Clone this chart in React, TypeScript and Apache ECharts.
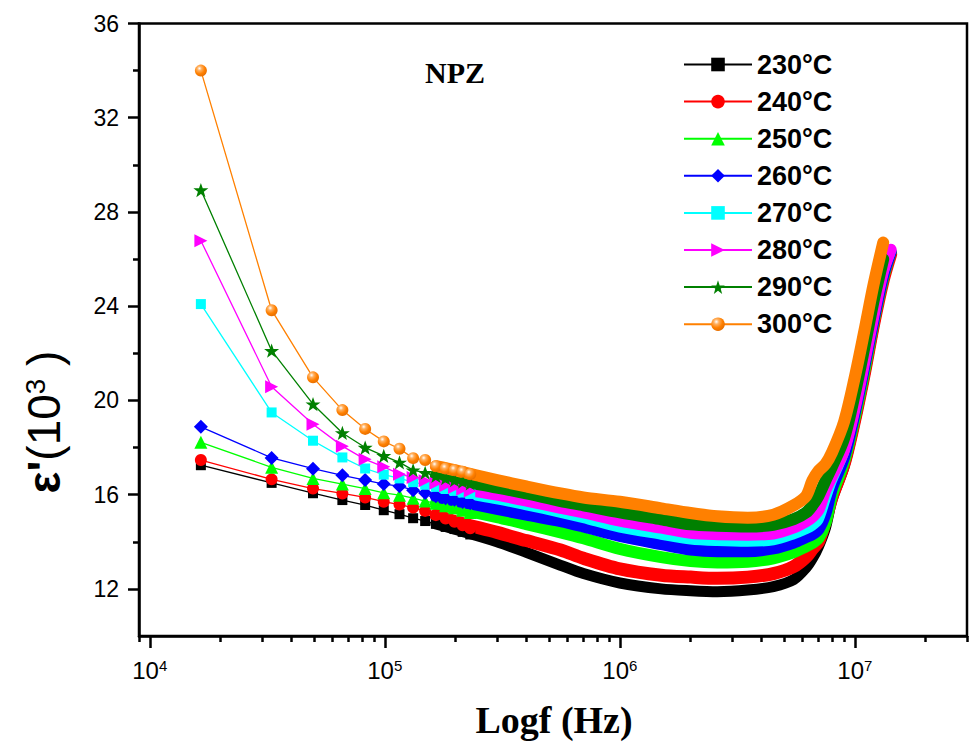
import React, { useEffect, useRef } from 'react';
import * as echarts from 'echarts';

// ---- data (values in 10^3) ----
const temps = ['230°C', '240°C', '250°C', '260°C', '270°C', '280°C', '290°C', '300°C'];

// low-frequency points where the individual markers are visible (Hz)
const markerFreq = [16500, 33000, 49500, 66000, 82500, 99000, 115500, 132000, 148500, 165000, 181500, 198000, 214500, 231000];
const m230 = [17.25, 16.5, 16.06, 15.77, 15.56, 15.34, 15.17, 15.0, 14.88, 14.76, 14.63, 14.54, 14.42, 14.31];
const m240 = [17.47, 16.65, 16.26, 16.05, 15.88, 15.7, 15.58, 15.45, 15.31, 15.13, 14.99, 14.85, 14.7, 14.57];
const m250 = [18.22, 17.16, 16.69, 16.45, 16.26, 16.08, 15.98, 15.85, 15.73, 15.63, 15.53, 15.44, 15.34, 15.24];
const m260 = [18.88, 17.56, 17.1, 16.82, 16.62, 16.45, 16.36, 16.19, 16.07, 15.93, 15.85, 15.78, 15.69, 15.63];
const m270 = [24.09, 19.49, 18.29, 17.58, 17.11, 16.85, 16.69, 16.53, 16.42, 16.33, 16.24, 16.16, 16.09, 16.03];
const m280 = [26.78, 20.58, 18.99, 18.06, 17.5, 17.18, 16.87, 16.73, 16.59, 16.48, 16.38, 16.3, 16.23, 16.16];
const m290 = [28.93, 22.11, 19.84, 18.62, 18.0, 17.65, 17.37, 17.04, 16.93, 16.8, 16.7, 16.62, 16.55, 16.48];
const m300 = [34.0, 23.83, 20.98, 19.59, 18.79, 18.26, 17.95, 17.55, 17.47, 17.21, 17.11, 17.04, 16.97, 16.87];

// dense region where the markers merge into a band (Hz)
const bandFreq = [165e3, 200e3, 300e3, 400e3, 560e3, 700e3, 1e6, 1.5e6, 2e6, 2.6e6, 3.5e6, 4.5e6, 5.5e6, 6.2e6, 6.6e6, 7e6, 7.5e6, 8e6, 9e6, 1e7, 1.1e7, 1.2e7, 1.32e7, 1.42e7];
const b230 = [14.76, 14.52, 14.0, 13.55, 13.0, 12.65, 12.25, 12.0, 11.92, 11.88, 11.95, 12.1, 12.4, 12.9, 13.3, 13.8, 14.6, 15.8, 17.2, 19.1, 21.1, 23.1, 25.1, 26.2];
const b240 = [15.13, 14.85, 14.4, 14.05, 13.65, 13.3, 12.85, 12.58, 12.5, 12.45, 12.5, 12.65, 12.95, 13.35, 13.7, 14.0, 14.9, 15.9, 17.3, 19.2, 21.2, 23.2, 25.1, 26.2];
const b250 = [15.63, 15.43, 15.05, 14.75, 14.4, 14.15, 13.7, 13.35, 13.18, 13.12, 13.15, 13.3, 13.56, 13.81, 13.95, 14.15, 14.8, 16.0, 17.4, 19.3, 21.3, 23.3, 25.2, 26.3];
const b260 = [15.93, 15.75, 15.4, 15.15, 14.88, 14.65, 14.25, 13.9, 13.67, 13.6, 13.6, 13.72, 13.97, 14.2, 14.32, 14.53, 15.2, 16.3, 17.6, 19.5, 21.5, 23.4, 25.3, 26.3];
const b270 = [16.33, 16.12, 15.8, 15.55, 15.23, 15.0, 14.6, 14.3, 14.1, 14.03, 14.0, 14.06, 14.32, 14.53, 14.68, 14.92, 15.8, 16.6, 17.8, 19.6, 21.6, 23.5, 25.4, 26.3];
const b280 = [16.48, 16.3, 16.0, 15.75, 15.44, 15.25, 14.9, 14.6, 14.38, 14.32, 14.3, 14.35, 14.61, 14.87, 15.06, 15.35, 16.2, 16.8, 17.9, 19.7, 21.7, 23.6, 25.5, 26.4];
const b290 = [16.8, 16.62, 16.3, 16.05, 15.73, 15.55, 15.25, 14.95, 14.74, 14.68, 14.65, 14.72, 14.96, 15.24, 15.55, 15.95, 16.6, 17.2, 18.4, 20.3, 22.3, 24.2, 26.0, null];
const b300 = [17.21, 17.03, 16.62, 16.35, 16.05, 15.88, 15.7, 15.42, 15.22, 15.08, 15.02, 15.15, 15.55, 15.94, 16.6, 17.0, 17.3, 17.8, 19.1, 21.0, 23.0, 24.9, 26.7, null];

// axis ticks
const xMajorTicks = [1e4, 1e5, 1e6, 1e7];
const xMinorTicks = [9e3, 2e4, 3e4, 4e4, 5e4, 6e4, 7e4, 8e4, 9e4, 2e5, 3e5, 4e5, 5e5, 6e5, 7e5, 8e5, 9e5, 2e6, 3e6, 4e6, 5e6, 6e6, 7e6, 8e6, 9e6, 2e7, 3e7];
const yMajorTicks = [12, 16, 20, 24, 28, 32, 36];
const yMinorTicks = [14, 18, 22, 26, 30, 34];

// ---- styles ----
const markerSets = [m230, m240, m250, m260, m270, m280, m290, m300];
const bandSets = [b230, b240, b250, b260, b270, b280, b290, b300];
const colors = ['#000000', '#FF0000', '#00FF00', '#0000FF', '#00FFFF', '#FF00FF', '#008000', '#FF8000'];
const STAR = 'path://M12 0 L14.9 8.3 L23.6 8.4 L16.6 13.6 L19.1 22 L12 17 L4.9 22 L7.4 13.6 L0.4 8.4 L9.1 8.3 Z';
const symbols = ['rect', 'circle', 'triangle', 'diamond', 'rect', 'triangle', STAR, 'circle'];
const symbolSizes = [10, 12, 13, 14, 10, 13, 15, 12];
const symbolRotates = [0, 0, 0, 0, 0, -90, 0, 0];
const bandWidths = [11, 13, 12, 12, 10, 12, 12, 12];

const SANS = 'Liberation Sans, Arial, sans-serif';
const SERIF = 'Liberation Serif, Times New Roman, serif';

function buildOption() {
  const sphere = new echarts.graphic.RadialGradient(0.38, 0.32, 0.75, [
    { offset: 0, color: '#ffffff' },
    { offset: 0.25, color: '#ffb060' },
    { offset: 0.6, color: '#ff8000' },
    { offset: 1, color: '#e06a00' },
  ]);
  const series: any[] = [];
  temps.forEach((name, i) => {
    const bandData = bandFreq
      .map((f, j) => [f, bandSets[i][j]])
      .filter((p) => p[1] !== null && p[1] !== undefined);
    series.push({
      name: name + ' band',
      type: 'line',
      xAxisIndex: 0,
      yAxisIndex: 0,
      data: bandData,
      showSymbol: false,
      smooth: 0.3,
      silent: true,
      lineStyle: { color: colors[i], width: bandWidths[i], cap: 'round', join: 'round' },
      itemStyle: { color: colors[i] },
      z: 2,
    });
    series.push({
      name,
      type: 'line',
      xAxisIndex: 0,
      yAxisIndex: 0,
      data: markerFreq.map((f, j) => [f, markerSets[i][j]]),
      symbol: symbols[i],
      symbolSize: symbolSizes[i],
      symbolRotate: symbolRotates[i],
      symbolKeepAspect: true,
      showSymbol: true,
      silent: true,
      lineStyle: { color: colors[i], width: 1.3 },
      itemStyle: { color: i === 7 ? sphere : colors[i] },
      z: 2,
    });
  });

  return {
    animation: false,
    backgroundColor: '#ffffff',
    grid: {
      left: 139,
      right: 2,
      top: 23.5,
      bottom: 108,
      show: true,
      borderColor: '#000',
      borderWidth: 2.5,
      backgroundColor: 'transparent',
    },
    legend: {
      orient: 'vertical',
      left: 678,
      top: 46,
      itemWidth: 68,
      itemHeight: 17,
      itemGap: 10.1,
      selectedMode: false,
      data: temps,
      lineStyle: { width: 2 },
      textStyle: { fontSize: 27, fontWeight: 'bold', fontFamily: SANS, color: '#000', lineHeight: 27 },
    },
    xAxis: [
      {
        type: 'log',
        logBase: 10,
        min: 9000,
        max: 3e7,
        position: 'bottom',
        axisLine: { show: true, onZero: false, lineStyle: { color: '#000', width: 2.5 } },
        axisTick: { show: true, customValues: xMajorTicks, length: 12, lineStyle: { color: '#000', width: 2.5 } },
        axisLabel: {
          show: true,
          customValues: xMajorTicks,
          margin: 22,
          color: '#000',
          fontFamily: SANS,
          formatter: (v: number) => '{b|10}{s|' + Math.round(Math.log10(v)) + '}',
          rich: {
            b: { fontSize: 24, fontFamily: SANS, color: '#000' },
            s: { fontSize: 15, fontFamily: SANS, color: '#000', verticalAlign: 'top' },
          },
        },
        splitLine: { show: false },
        minorTick: { show: false },
      },
      {
        type: 'log',
        logBase: 10,
        min: 9000,
        max: 3e7,
        position: 'bottom',
        axisLine: { show: false, onZero: false },
        axisTick: { show: true, customValues: xMinorTicks, length: 6, lineStyle: { color: '#000', width: 2.5 } },
        axisLabel: { show: false },
        splitLine: { show: false },
      },
    ],
    yAxis: [
      {
        type: 'value',
        min: 10,
        max: 36,
        position: 'left',
        axisLine: { show: true, onZero: false, lineStyle: { color: '#000', width: 2.5 } },
        axisTick: { show: true, customValues: yMajorTicks, length: 11, lineStyle: { color: '#000', width: 2.5 } },
        axisLabel: { show: true, customValues: yMajorTicks, margin: 20, fontSize: 23, fontFamily: SANS, color: '#000' },
        splitLine: { show: false },
      },
      {
        type: 'value',
        min: 10,
        max: 36,
        position: 'left',
        axisLine: { show: false, onZero: false },
        axisTick: { show: true, customValues: yMinorTicks, length: 6, lineStyle: { color: '#000', width: 2.5 } },
        axisLabel: { show: false },
        splitLine: { show: false },
      },
    ],
    graphic: [
      {
        type: 'text',
        x: 455,
        y: 72,
        style: {
          text: 'NPZ',
          fontSize: 30,
          fontWeight: 'bold',
          fontFamily: SERIF,
          fill: '#000',
          textAlign: 'center',
          textVerticalAlign: 'middle',
        },
      },
      {
        type: 'text',
        x: 554,
        y: 720,
        style: {
          text: 'Logf (Hz)',
          fontSize: 38,
          fontWeight: 'bold',
          fontFamily: SERIF,
          fill: '#000',
          textAlign: 'center',
          textVerticalAlign: 'middle',
        },
      },
      {
        type: 'text',
        x: 44,
        y: 422,
        rotation: Math.PI / 2,
        style: {
          text: "{e|ε'}(10{s|3} )",
          fontSize: 46,
          fontFamily: SANS,
          fill: '#000',
          textAlign: 'center',
          textVerticalAlign: 'middle',
          rich: {
            e: { fontSize: 46, fontWeight: 'bold', fontFamily: SANS, fill: '#000' },
            s: { fontSize: 28, fontFamily: SANS, fill: '#000', verticalAlign: 'top' },
          },
        },
      },
    ],
    series,
  };
}

export default function App() {
  const ref = useRef<HTMLDivElement>(null);
  useEffect(() => {
    if (!ref.current) return;
    const chart = echarts.init(ref.current, null, { renderer: 'svg' });
    chart.setOption(buildOption() as any);
    return () => chart.dispose();
  }, []);
  return (
    <div
      ref={ref}
      style={{ position: 'fixed', left: 0, top: 0, width: 969, height: 744, background: '#fff' }}
    />
  );
}
